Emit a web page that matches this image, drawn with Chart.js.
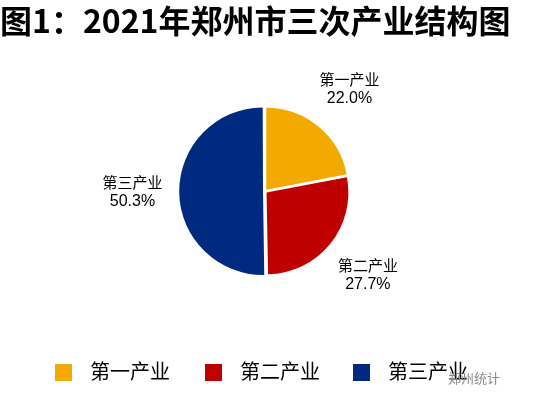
<!DOCTYPE html>
<html lang="zh">
<head>
<meta charset="UTF-8">
<script src="https://cdn.jsdelivr.net/npm/chart.js@4.4.1/dist/chart.umd.min.js"></script>
<style>
  body { margin: 0; background: #fff; }
  #wrap { position: relative; width: 536px; height: 401px; }
  .leg { position: absolute; top: 358px; font: 20px "Noto Sans CJK SC"; color: #000; line-height: 26px; white-space: nowrap; }
  .leg i { display: inline-block; width: 17px; height: 17px; margin-right: 18px; vertical-align: -2px; }
  #mark { position: absolute; left: 448px; top: 368px; font: 13px "Noto Sans CJK SC"; color: #888; }
</style>
</head>
<body>
<div id="wrap"><canvas id="c" width="536" height="401"></canvas><div id="legend"></div><div id="mark">郑州统计</div></div>
<script>
// 2021年郑州市三次产业结构
const categories = ['第一产业', '第二产业', '第三产业'];
const shares = [22.0, 27.7, 50.3];
const colors = ['#F2A900', '#C00000', '#002A80'];
const legendX = [55, 205, 353];

// legend as text under the pie
categories.forEach((name, i) => {
  const d = document.createElement('div');
  d.className = 'leg';
  d.style.left = legendX[i] + 'px';
  d.innerHTML = '<i style="background:' + colors[i] + '"></i>' + name;
  document.getElementById('legend').appendChild(d);
});

// draws "name / value%" outside each slice
const outsideLabels = {
  id: 'outsideLabels',
  afterDatasetsDraw(chart) {
    const ctx = chart.ctx;
    const arcs = chart.getDatasetMeta(0).data;
    ctx.save();
    ctx.fillStyle = '#000';
    ctx.textAlign = 'center';
    arcs.forEach((arc, i) => {
      const mid = (arc.startAngle + arc.endAngle) / 2;
      const r = arc.outerRadius * 1.62;
      const x = arc.x + Math.cos(mid) * r;
      const y = arc.y + Math.sin(mid) * r;
      ctx.font = '15px "Noto Sans CJK SC"';
      ctx.fillText(categories[i], x, y - 4);
      ctx.font = '16px "Liberation Sans"';
      ctx.fillText(shares[i].toFixed(1) + '%', x, y + 14);
    });
    ctx.restore();
  }
};

new Chart(document.getElementById('c'), {
  type: 'pie',
  data: {
    labels: categories,
    datasets: [{ data: shares, backgroundColor: colors, borderWidth: 0, offset: 8 }]
  },
  options: {
    responsive: false,
    animation: false,
    layout: { padding: { top: 0, bottom: 124, left: 0, right: 6 } },
    plugins: {
      title: {
        display: true,
        text: '图1：2021年郑州市三次产业结构图',
        align: 'start',
        color: '#000',
        font: { size: 32, weight: 'bold', family: '"Noto Sans CJK SC"' },
        padding: { top: 2, bottom: 65 }
      },
      legend: { display: false },
      tooltip: { enabled: false }
    }
  },
  plugins: [outsideLabels]
});
</script>
</body>
</html>
